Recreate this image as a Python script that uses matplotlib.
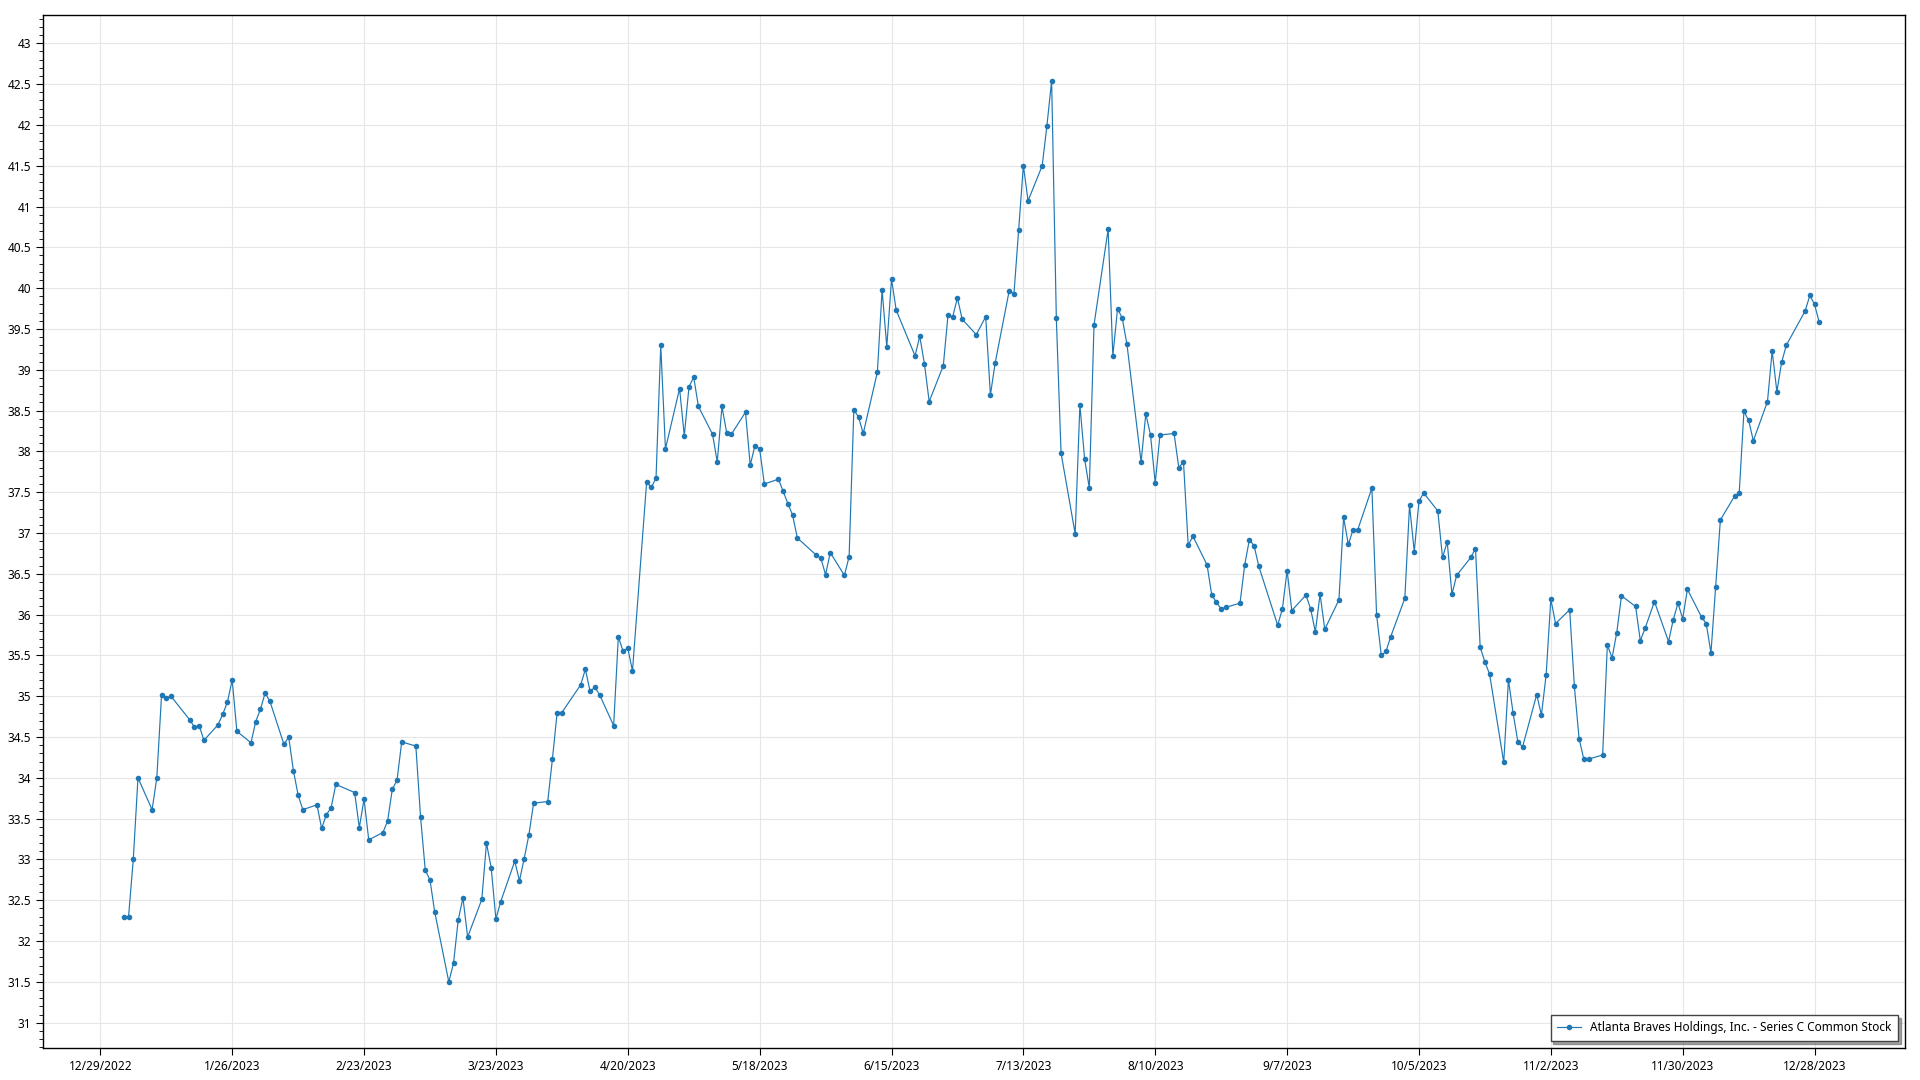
import datetime as dt

import matplotlib.pyplot as plt
import matplotlib.dates as mdates
import pandas as pd
from matplotlib.ticker import FuncFormatter, MultipleLocator

# NYSE holidays 2023 (trading calendar for the x axis)
HOLIDAYS = ["2023-01-02", "2023-01-16", "2023-02-20", "2023-04-07", "2023-05-29",
            "2023-06-19", "2023-07-04", "2023-09-04", "2023-11-23", "2023-12-25"]

jan = [32.29, 32.30, 33.00, 34.00, 33.61, 34.00, 35.01, 34.98, 35.00, 34.71,
       34.62, 34.64, 34.46, 34.65, 34.78, 34.93, 35.20, 34.57, 34.43, 34.69]
feb = [34.84, 35.04, 34.94, 34.41, 34.50, 34.09, 33.79, 33.61, 33.67, 33.38,
       33.55, 33.63, 33.92, 33.82, 33.39, 33.74, 33.24, 33.33, 33.47]
mar = [33.86, 33.97, 34.44, 34.39, 33.52, 32.87, 32.75, 32.36, 31.50, 31.73,
       32.26, 32.53, 32.05, 32.51, 33.20, 32.90, 32.27, 32.48, 32.98, 32.74,
       33.01, 33.30, 33.69]
apr = [33.71, 34.23, 34.80, 34.80, 35.14, 35.33, 35.06, 35.11, 35.02, 34.64,
       35.73, 35.55, 35.59, 35.31, 37.62, 37.56, 37.67, 39.30, 38.03]
may = [38.77, 38.19, 38.79, 38.91, 38.55, 38.21, 37.87, 38.55, 38.23, 38.21,
       38.48, 37.83, 38.07, 38.03, 37.60, 37.66, 37.51, 37.36, 37.22, 36.94,
       36.73, 36.69]
jun = [36.49, 36.76, 36.48, 36.71, 38.51, 38.42, 38.22, 38.97, 39.98, 39.28,
       40.11, 39.73, 39.17, 39.41, 39.07, 38.61, 39.05, 39.67, 39.65, 39.88,
       39.62]
jul = [39.43, 39.65, 38.69, 39.08, 39.97, 39.93, 40.71, 41.50, 41.07, 41.50,
       41.99, 42.54, 39.63, 37.98, 36.99, 38.57, 37.91, 37.55, 39.55, 40.72]
aug = [39.17, 39.75, 39.63, 39.31, 37.87, 38.46, 38.20, 37.61, 38.20, 38.22,
       37.80, 37.87, 36.85, 36.96, 36.61, 36.24, 36.15, 36.07, 36.09, 36.14,
       36.61, 36.92, 36.84]
sep = [36.59, 35.87, 36.07, 36.54, 36.05, 36.24, 36.07, 35.79, 36.25, 35.82,
       36.18, 37.19, 36.86, 37.04, 37.04, 37.55, 36.00, 35.50, 35.55, 35.73]
oct_ = [36.20, 37.34, 36.77, 37.39, 37.49, 37.27, 36.70, 36.89, 36.25, 36.48,
        36.70, 36.81, 35.60, 35.42, 35.27, 34.19, 35.20, 34.79, 34.44, 34.38,
        35.02, 34.77]
nov = [35.26, 36.19, 35.89, 36.06, 35.12, 34.48, 34.23, 34.23, 34.28, 35.63,
       35.47, 35.78, 36.23, 36.10, 35.68, 35.83, 36.16, 35.67, 35.94, 36.14,
       35.95]
dec = [36.31, 35.97, 35.89, 35.53, 36.34, 37.16, 37.45, 37.49, 38.49, 38.38,
       38.13, 38.61, 39.23, 38.73, 39.09, 39.30, 39.72, 39.91, 39.80, 39.58]

LABEL = "Atlanta Braves Holdings, Inc. - Series C Common Stock"
COLOR = "#1f77b4"

dates = pd.bdate_range("2023-01-03", "2023-12-29", freq="C", holidays=HOLIDAYS)
close = jan + feb + mar + apr + may + jun + jul + aug + sep + oct_ + nov + dec

plt.rcParams["font.family"] = ["Noto Sans", "DejaVu Sans"]

fig = plt.figure(figsize=(19.2, 10.8), dpi=100)
ax = fig.add_axes([0.0224, 0.0296, 0.9698, 0.9568])

ax.plot(dates, close, color=COLOR, linewidth=0.85, marker="o", markersize=4.0,
        markeredgewidth=0, label=LABEL)

ax.set_xlim(dt.datetime(2022, 12, 16, 20), dt.datetime(2024, 1, 16, 5))
ax.set_ylim(30.69, 43.35)

xticks = pd.date_range("2022-12-29", "2023-12-28", freq="28D")
ax.set_xticks(xticks)
ax.xaxis.set_major_formatter(FuncFormatter(
    lambda v, _: (lambda d: f"{d.month}/{d.day}/{d.year}")(mdates.num2date(v))))
ax.yaxis.set_major_locator(MultipleLocator(0.5))
ax.yaxis.set_minor_locator(MultipleLocator(0.1))
ax.yaxis.set_major_formatter(FuncFormatter(lambda v, _: f"{v:g}"))

ax.grid(True, which="major", color="#e6e6e6", linewidth=0.8)
ax.set_axisbelow(True)
ax.tick_params(axis="both", which="major", labelsize=8.5, length=5, width=0.8,
               colors="black")
ax.tick_params(axis="y", which="minor", length=3, width=0.6)
for spine in ax.spines.values():
    spine.set_color("black")
    spine.set_linewidth(1.0)

leg = ax.legend(loc="lower right", fontsize=8.5, frameon=True, fancybox=False,
                shadow=True, edgecolor="#444444", borderaxespad=0.6,
                handlelength=2.0, borderpad=0.55)
leg.get_frame().set_linewidth(1.0)

fig.savefig("out.png", dpi=100)
